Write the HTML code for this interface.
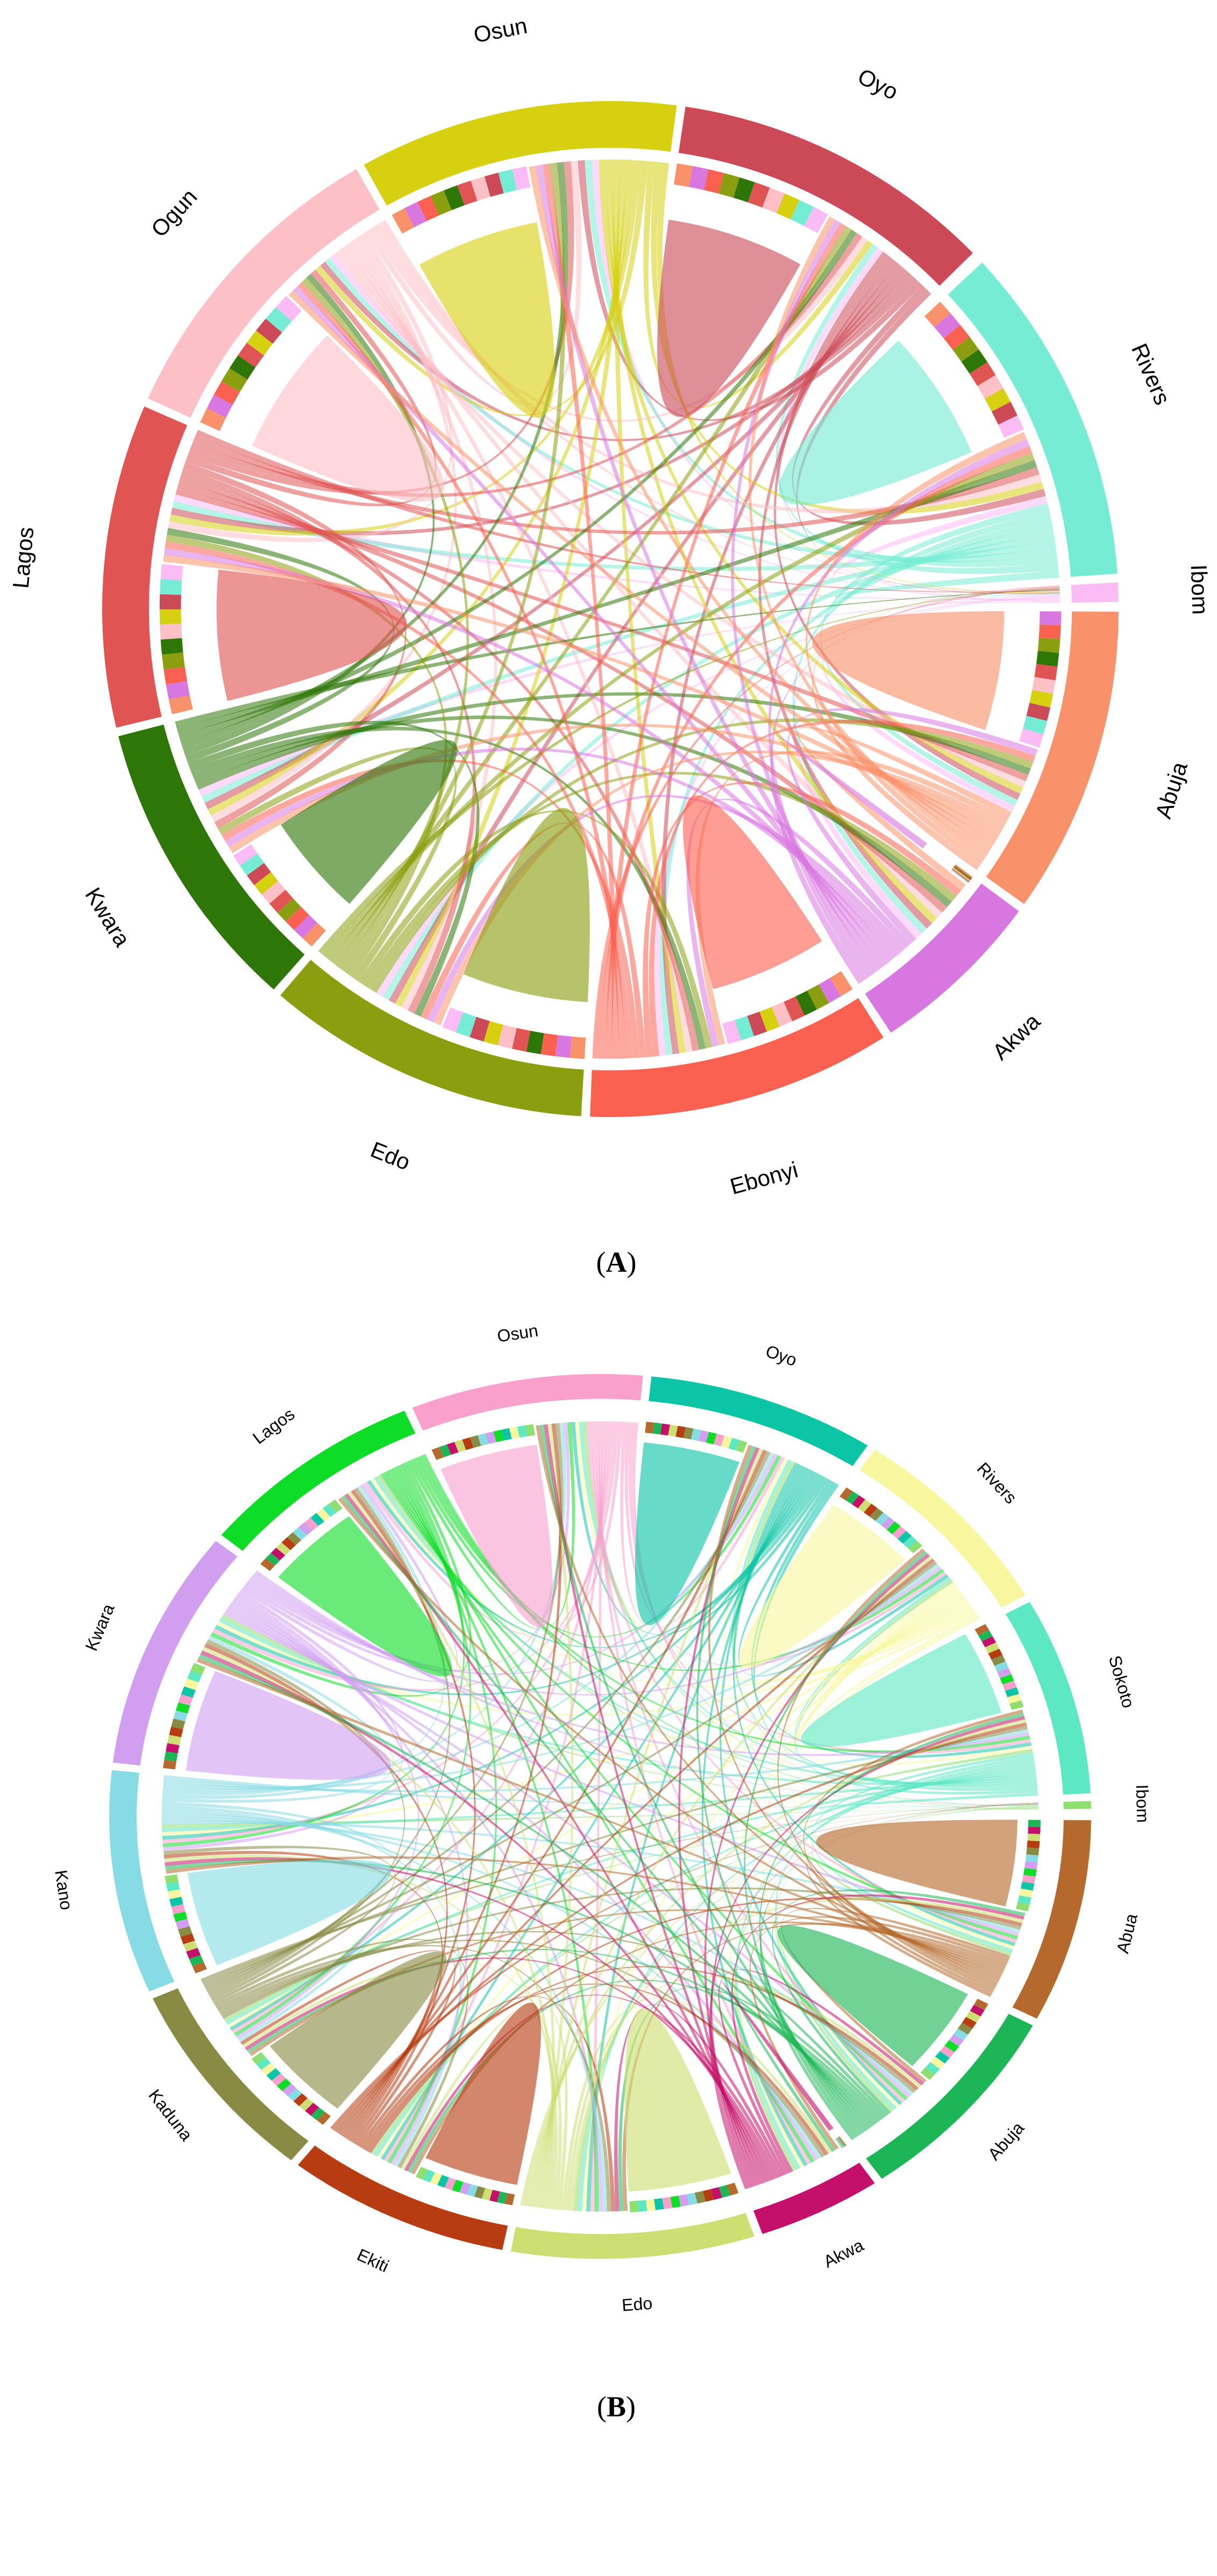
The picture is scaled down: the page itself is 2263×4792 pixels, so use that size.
<!DOCTYPE html>
<html><head><meta charset="utf-8"><style>
html,body{margin:0;padding:0;background:#fff;}
svg{display:block;}
</style></head><body>
<svg id="fig" width="2263" height="4792" viewBox="0 0 2263 4792" xmlns="http://www.w3.org/2000/svg">
<rect width="2263" height="4792" fill="#fff"/>
<g id="chartA"></g>
<g id="chartB"></g>
<text x="1146" y="2366" text-anchor="middle" font-family="Liberation Serif, serif" font-size="54">(<tspan font-weight="bold">A</tspan>)</text>
<text x="1146" y="4495" text-anchor="middle" font-family="Liberation Serif, serif" font-size="54">(<tspan font-weight="bold">B</tspan>)</text>
</svg>
<script>
// ---- Chart A data ----
const namesA = ["Ibom","Rivers","Oyo","Osun","Ogun","Lagos","Kwara","Edo","Ebonyi","Akwa","Abuja"];
const startA = [0.8,4,44.5,82.5,120,156.5,194.5,229.5,267.7,303.5,324.5];
const endA   = [3,43,81.5,119,155.5,193.5,228.5,266.7,302.5,323.5,359.7];
const colorsA = ["#fbbcf5","#76ecd4","#cc4a58","#d6d010","#fdc0c6","#e05454","#2f7608","#8a9e0f","#fb6150","#d877e0","#f9916a"];
const selfShareA = [0,0.5,0.55,0.5,0.55,0.52,0.45,0.5,0.5,0.05,0.5];
// ---- Chart B data ----
const namesB = ["Ibom","Sokoto","Rivers","Oyo","Osun","Lagos","Kwara","Kano","Kaduna","Ekiti","Edo","Akwa","Abuja","Abua"];
const startB = [1,3,30,57,85,113.5,141.5,174,204.3,232,259.5,289.3,305,332.8];
const endB   = [2,29,56,84,112.5,140.5,173,203.3,231,258.5,288.3,304,331.8,359.5];
const colorsB = ["#8fde70","#5de8c4","#f8f7a0","#0cc4a6","#f9a0cd","#0ddd27","#d29ff0","#86dbe4","#898a44","#b73c11","#cddf72","#c4106a","#1cb656","#b5692c"];
const selfShareB = [0,0.5,0.5,0.5,0.5,0.5,0.5,0.5,0.5,0.5,0.5,0.05,0.5,0.5];

const NS="http://www.w3.org/2000/svg";
const rad=d=>d*Math.PI/180;
function P(r,a){return [r*Math.cos(rad(a)), -r*Math.sin(rad(a))];}
function f(p){return p[0].toFixed(5)+" "+p[1].toFixed(5);}
function mk(tag,parent){const e=document.createElementNS(NS,tag);parent.appendChild(e);return e;}

function draw(gid,cfg){
  const g=document.getElementById(gid);
  const names=cfg.names, n=names.length;
  const inner=mk("g",g);
  inner.setAttribute("transform",`translate(${cfg.cx},${cfg.cy}) scale(${cfg.rx},${cfg.ry})`);
  
  
  const fanStart=[], outSlots=[], inSlots=[];
  for(let i=0;i<n;i++){
    const a0=cfg.start[i], a1=cfg.end[i], span=a1-a0;
    const fs=a1-span*cfg.self[i];
    fanStart.push(fs);
    const c0=a0, c1=fs-(cfg.self[i]>0?0.3:0);
    const w=(c1-c0)/(2*(n-1));
    const o=[], ins=[]; let k=0;
    for(let j=0;j<n;j++){ if(j===i){o.push(null);ins.push(null);continue;}
      o.push([c0+k*w, c0+(k+1)*w]);
      ins.push([c0+(n-1+k)*w, c0+(n+k)*w]); k++; }
    outSlots.push(o); inSlots.push(ins);
  }
  const R=cfg.rc;
  for(let i=0;i<n;i++){
    for(let j=0;j<n;j++){ if(i===j) continue;
      const s=outSlots[i][j], t=inSlots[j][i];
      const d=`M${f(P(R,s[0]))} A${R} ${R} 0 0 0 ${f(P(R,s[1]))} Q0 0 ${f(P(R,t[0]))} A${R} ${R} 0 0 0 ${f(P(R,t[1]))} Q0 0 ${f(P(R,s[0]))} Z`;
      const p=mk("path",inner);
      p.setAttribute("d",d);p.setAttribute("fill",cfg.colors[i]);p.setAttribute("fill-opacity","0.55");
      
      
    }
  }
  for(let i=0;i<n;i++){
    if(cfg.self[i]<=0) continue;
    const fa=fanStart[i], fb=cfg.end[i], rf=cfg.rf, mid=(fa+fb)/2;
    const cp=P(rf*0.05,mid);
    const d=`M${f(P(rf,fa))} A${rf} ${rf} 0 0 0 ${f(P(rf,fb))} Q${f(cp)} ${f(P(rf,fa))} Z`;
    const p=mk("path",inner);
    p.setAttribute("d",d);p.setAttribute("fill",cfg.colors[i]);p.setAttribute("fill-opacity","0.62");
    
    
    const others=[];for(let j=0;j<n;j++) if(j!==i) others.push(j);
    const cw=(fb-fa)/others.length;
    others.forEach((j,k)=>{
      const a=fa+k*cw, b=fa+(k+1)*cw;
      const r1=cfg.t0, r2=cfg.t1;
      const c=mk("path",inner);
      c.setAttribute("d",`M${f(P(r2,a))} A${r2} ${r2} 0 0 0 ${f(P(r2,b))} L${f(P(r1,b))} A${r1} ${r1} 0 0 1 ${f(P(r1,a))} Z`);
      c.setAttribute("fill",cfg.colors[j]);
      
      
    });
  }
  for(let i=0;i<n;i++){
    const a=cfg.start[i], b=cfg.end[i], r1=cfg.ri, r2=1, lg=(b-a)>180?1:0;
    const c=mk("path",inner);
    c.setAttribute("d",`M${f(P(r2,a))} A${r2} ${r2} 0 ${lg} 0 ${f(P(r2,b))} L${f(P(r1,b))} A${r1} ${r1} 0 ${lg} 1 ${f(P(r1,a))} Z`);
    c.setAttribute("fill",cfg.colors[i]);
    
    
    const m=(a+b)/2;
    const x=cfg.cx+cfg.lr*cfg.rx*Math.cos(rad(m)), y=cfg.cy-cfg.lr*cfg.ry*Math.sin(rad(m));
    const rot=(m<=180)?(90-m):(270-m);
    const t=mk("text",g);
    t.setAttribute("x",x.toFixed(1));t.setAttribute("y",y.toFixed(1));
    t.setAttribute("text-anchor","middle");t.setAttribute("dominant-baseline","central");
    t.setAttribute("font-family","Liberation Sans, sans-serif");t.setAttribute("font-size",cfg.fs);
    t.setAttribute("transform",`rotate(${rot.toFixed(2)} ${x.toFixed(1)} ${y.toFixed(1)})`);
    t.textContent=names[i];
    
    
  }
}
draw("chartA",{names:namesA,start:startA,end:endA,colors:colorsA,self:selfShareA,
  cx:1135,cy:1133,rx:945,ry:945,ri:0.908,rc:0.885,rf:0.775,t0:0.845,t1:0.887,lr:1.16,fs:42});
draw("chartB",{names:namesB,start:startB,end:endB,colors:colorsB,self:selfShareB,
  cx:1116,cy:3379,rx:913,ry:823,ri:0.944,rc:0.893,rf:0.85,t0:0.872,t1:0.897,lr:1.105,fs:32});
</script>
</body></html>
